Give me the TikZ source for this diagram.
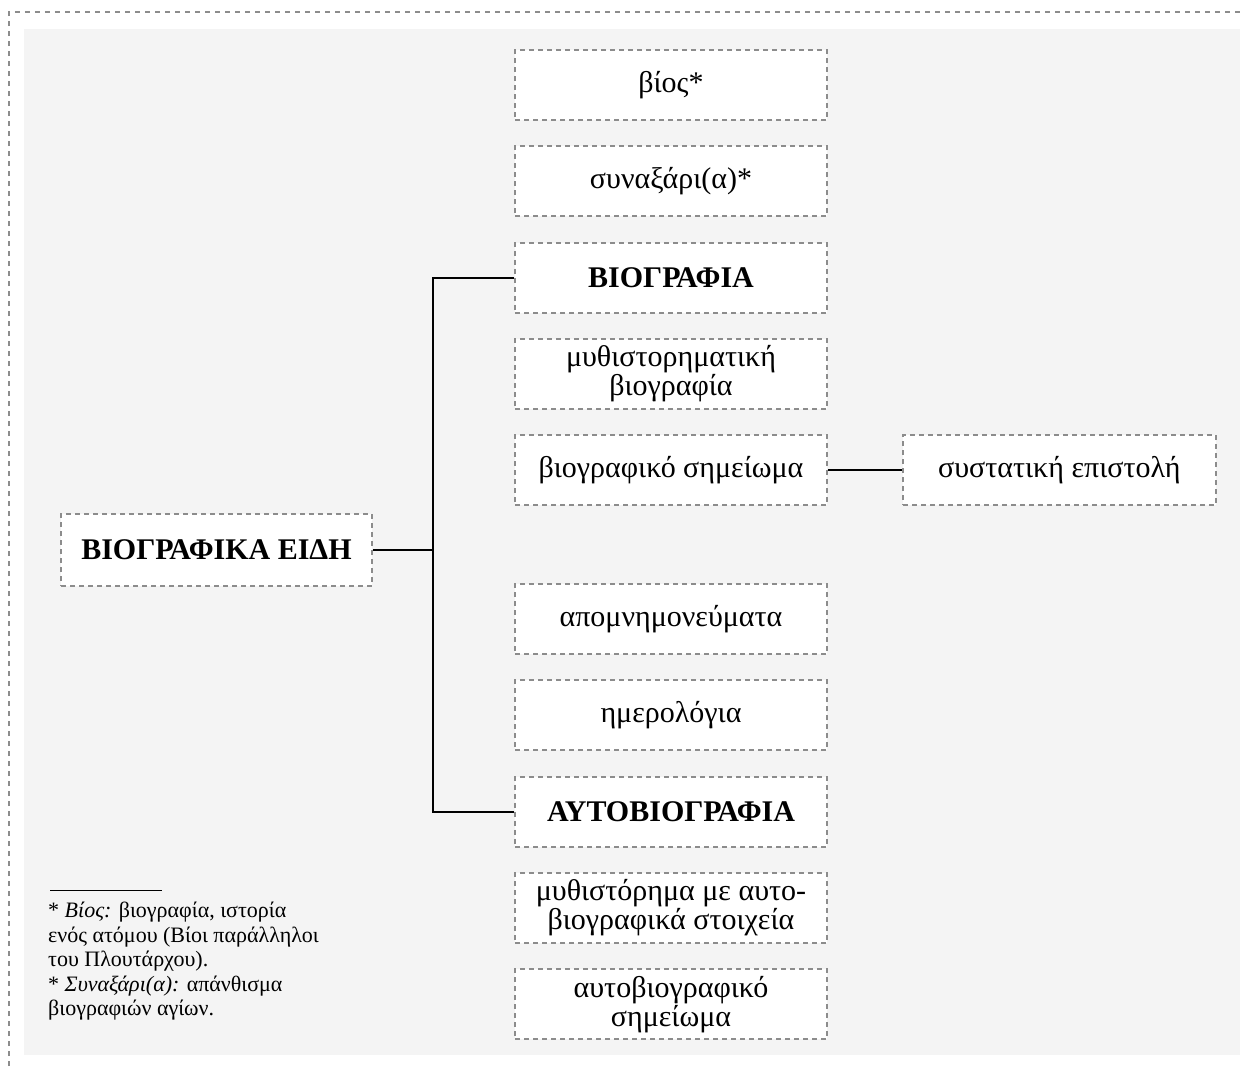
\documentclass[tikz,border=0pt]{standalone}
\usepackage{fontspec}
\setmainfont{Liberation Serif}
\usetikzlibrary{positioning}
\definecolor{dashgray}{HTML}{8C8C8C}
\definecolor{bggray}{HTML}{F4F4F4}
\tikzset{
  box/.style={draw=dashgray, fill=white, line width=1.8pt, dash pattern=on 5pt off 4pt,
    minimum width=312pt, minimum height=70pt, inner sep=2pt, align=center,
    font=\fontsize{30}{29}\selectfont},
  boldbox/.style={box, font=\fontsize{30}{29}\selectfont\bfseries},
  link/.style={line width=2pt, black}
}

\begin{document}
\begin{tikzpicture}[x=1pt,y=-1pt,node distance=24.5pt]
  \useasboundingbox (0,0) rectangle (1244,1066);
  \fill[bggray] (24,29) rectangle (1240,1055);
  \draw[dashgray, line width=1.8pt, dash pattern=on 5pt off 5pt] (9,1066) -- (9,12) -- (1244,12);

  % right column
  \node[box] (bios) at (671,85) {βίος*};
  \node[box] (synaxari) [below=of bios] {συναξάρι(α)*};
  \node[boldbox] (biografia) [below=of synaxari] {ΒΙΟΓΡΑΦΙΑ};
  \node[box] (mythbio) [below=of biografia] {μυθιστορηματική\\βιογραφία};
  \node[box] (biosim) [below=of mythbio] {βιογραφικό σημείωμα};
  \node[box] (apomn) [below=77pt of biosim] {απομνημονεύματα};
  \node[box] (imerol) [below=of apomn] {ημερολόγια};
  \node[boldbox] (autobio) [below=of imerol] {ΑΥΤΟΒΙΟΓΡΑΦΙΑ};
  \node[box] (mythaut) [below=of autobio] {μυθιστόρημα με αυτο-\\βιογραφικά στοιχεία};
  \node[box] (autosim) [below=of mythaut] {αυτοβιογραφικό\\σημείωμα};

  \node[box, minimum width=313pt] (systatiki) [right=74pt of biosim] {συστατική επιστολή};
  \node[boldbox, minimum width=311pt, minimum height=72pt] (eidi) at (216.5,550) {ΒΙΟΓΡΑΦΙΚΑ ΕΙΔΗ};

  % connectors
  \coordinate (fork) at (433,550);
  \draw[link] (eidi.east) -- (fork);
  \draw[link] (biografia.west) -| (fork) |- (autobio.west);
  \draw[link] (biosim.east) -- (systatiki.west);

  % footnote
  \draw[line width=1pt] (50,890) -- (162,890);
  \node[anchor=north west, align=left, inner sep=0pt, font=\fontsize{22}{24.5}\selectfont] (note) at (48,902)
    {* \textit{Βίος:} βιογραφία, ιστορία\\ενός ατόμου (Βίοι παράλληλοι\\του Πλουτάρχου).\\* \textit{Συναξάρι(α):} απάνθισμα\\βιογραφιών αγίων.};
\end{tikzpicture}
\end{document}
